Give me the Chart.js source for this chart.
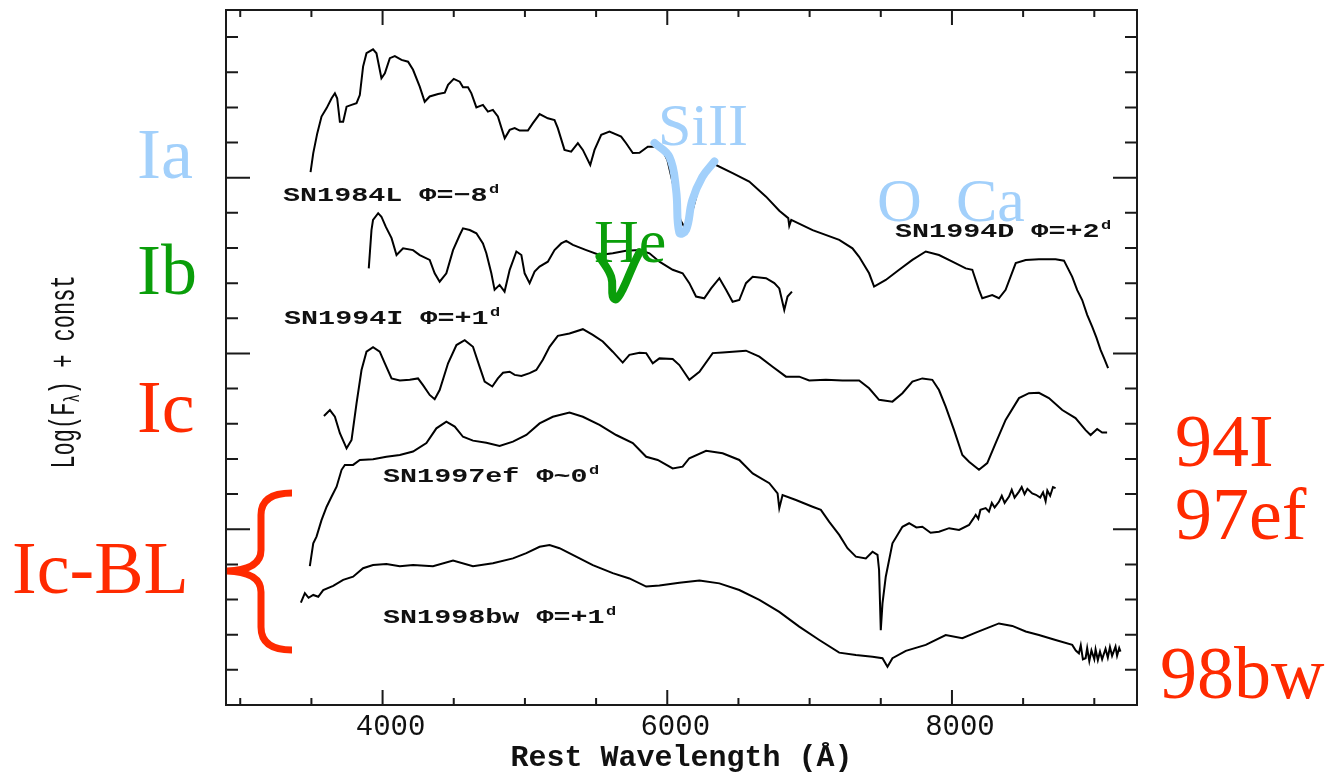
<!DOCTYPE html>
<html>
<head>
<meta charset="utf-8">
<script src="https://cdn.jsdelivr.net/npm/chart.js@4.4.1/dist/chart.umd.min.js"></script>
<style>
  html, body { margin: 0; padding: 0; background: #fff; }
</style>
</head>
<body>
<canvas id="myChart" width="1326" height="773"></canvas>
<script>
// wavelength (Angstrom), log flux + const (one unit = one minor tick)
const sn1994d = [
  [3494,15.16],[3513,15.70],[3541,16.26],[3571,16.74],[3607,16.98],[3642,17.26],[3665,17.40],[3681,17.26],[3700,16.59],[3723,16.59],
  [3747,17.02],[3782,17.07],[3817,17.12],[3840,17.35],[3863,18.16],[3887,18.54],[3933,18.65],[3957,18.54],[3992,17.83],[4016,17.97],
  [4051,18.40],[4086,18.46],[4133,18.35],[4179,18.30],[4214,18.07],[4261,17.59],[4296,17.16],[4331,17.31],[4390,17.38],[4437,17.42],
  [4460,17.64],[4500,17.81],[4542,17.73],[4565,17.57],[4600,17.57],[4624,17.40],[4659,17.00],[4705,17.07],[4740,16.88],[4775,16.93],
  [4810,16.74],[4858,16.12],[4893,16.36],[4928,16.41],[4963,16.34],[5021,16.34],[5056,16.55],[5103,16.81],[5161,16.69],[5208,16.64],
  [5231,16.41],[5278,15.79],[5325,15.74],[5372,15.98],[5407,15.79],[5459,15.36],[5489,15.79],[5536,16.22],[5594,16.31],[5676,16.17],
  [5711,15.98],[5758,15.70],[5805,15.71],[5863,15.88],[5922,15.88],[5959,15.85],[6001,15.50],[6050,14.65],[6092,13.80],[6132,13.51],
  [6169,13.94],[6226,14.79],[6296,15.36],[6343,15.36],[6459,15.13],[6576,14.89],[6694,14.46],[6787,14.06],[6850,13.85],[6857,13.63],
  [6871,13.80],[7021,13.51],[7208,13.23],[7301,12.99],[7348,12.75],[7418,12.28],[7453,11.90],[7535,12.09],[7629,12.38],[7722,12.66],
  [7816,12.90],[7909,12.80],[8003,12.61],[8097,12.42],[8143,12.38],[8190,11.81],[8213,11.57],[8283,11.66],[8330,11.57],[8377,11.81],
  [8448,12.57],[8518,12.66],[8611,12.68],[8728,12.68],[8787,12.64],[8845,12.18],[8880,11.80],[8915,11.52],[8950,11.10],[8985,10.76],
  [9015,10.45],[9044,10.10],[9070,9.85],[9097,9.58]
];

const sn1984l = [
  [3903,12.42],[3922,13.51],[3933,13.80],[3969,13.99],[3992,13.89],[4023,13.60],[4063,13.28],[4098,12.80],[4144,12.99],[4214,12.94],
  [4261,12.80],[4331,12.66],[4366,12.28],[4401,12.04],[4448,12.28],[4495,12.94],[4542,13.37],[4565,13.56],[4612,13.51],[4659,13.42],
  [4705,13.13],[4729,12.85],[4764,12.28],[4787,11.81],[4822,11.95],[4857,11.76],[4893,12.38],[4940,12.90],[4975,12.80],[4998,12.28],
  [5033,12.00],[5068,12.33],[5103,12.47],[5161,12.61],[5208,12.94],[5255,13.13],[5290,13.20],[5337,13.09],[5431,12.94],[5524,12.80],
  [5617,12.85],[5710,12.92],[5805,12.94],[5875,12.85],[5945,12.61],[6038,12.38],[6108,12.28],[6155,12.00],[6202,11.62],[6260,11.57],
  [6308,11.85],[6366,12.14],[6413,11.81],[6459,11.47],[6506,11.52],[6553,12.00],[6600,12.18],[6694,12.14],[6752,12.00],[6787,11.85],
  [6822,11.24],[6845,11.62],[6876,11.76]
];

const sn1994i = [
  [3588,8.22],[3630,8.39],[3665,8.20],[3700,7.73],[3747,7.30],[3782,7.54],[3817,8.58],[3852,9.53],[3887,10.05],[3933,10.18],
  [3980,10.05],[4016,9.72],[4063,9.29],[4121,9.23],[4191,9.25],[4249,9.29],[4284,9.10],[4331,8.82],[4366,8.70],[4401,8.96],
  [4460,9.72],[4519,10.24],[4577,10.38],[4635,10.19],[4682,9.62],[4717,9.20],[4771,9.06],[4810,9.29],[4846,9.45],[4893,9.48],
  [4928,9.39],[4975,9.36],[5033,9.44],[5080,9.53],[5126,9.82],[5173,10.19],[5231,10.50],[5313,10.57],[5407,10.69],[5477,10.53],
  [5547,10.34],[5617,10.05],[5687,9.74],[5734,9.96],[5805,10.02],[5852,10.01],[5898,9.72],[5945,9.86],[6038,9.84],[6085,9.67],
  [6155,9.25],[6226,9.48],[6319,10.01],[6389,10.03],[6553,10.08],[6647,9.91],[6740,9.62],[6834,9.34],[6927,9.34],[6997,9.23],
  [7114,9.25],[7231,9.23],[7348,9.23],[7418,9.01],[7488,8.68],[7582,8.63],[7652,8.87],[7722,9.20],[7792,9.29],[7862,9.25],
  [7909,8.96],[7956,8.49],[8015,7.82],[8073,7.11],[8120,6.92],[8190,6.69],[8248,6.88],[8307,7.45],[8377,8.11],[8471,8.73],
  [8541,8.87],[8611,8.88],[8681,8.73],[8775,8.39],[8868,8.16],[8939,7.82],[8974,7.68],[9020,7.85],[9055,7.75],[9090,7.75]
];

const sn1997ef = [
  [3489,3.95],[3513,4.60],[3536,4.79],[3571,5.26],[3607,5.64],[3642,5.93],[3677,6.21],[3712,6.69],[3735,6.83],[3793,6.83],
  [3840,6.97],[3933,6.99],[4027,7.06],[4121,7.11],[4214,7.21],[4308,7.45],[4378,7.87],[4448,8.06],[4507,7.92],[4565,7.63],
  [4635,7.52],[4729,7.46],[4822,7.37],[4916,7.49],[5010,7.68],[5103,8.01],[5196,8.20],[5313,8.32],[5407,8.20],[5524,7.97],
  [5641,7.68],[5758,7.45],[5852,7.06],[5933,6.97],[6038,6.73],[6108,6.78],[6155,7.02],[6273,7.23],[6389,7.16],[6506,6.97],
  [6600,6.59],[6717,6.31],[6775,6.02],[6787,5.60],[6810,5.97],[6904,5.83],[7021,5.64],[7079,5.55],[7138,5.21],[7208,4.84],
  [7266,4.46],[7325,4.22],[7395,4.17],[7442,4.36],[7477,4.27],[7488,3.84],[7500,2.13],[7512,2.89],[7535,3.65],[7582,4.60],
  [7652,5.07],[7699,5.17],[7750,5.05],[7792,5.07],[7850,4.90],[7909,4.93],[7980,5.03],[8050,4.98],[8120,5.12],[8150,5.30],
  [8167,5.41],[8185,5.30],[8200,5.55],[8237,5.60],[8260,5.50],[8280,5.75],[8300,5.62],[8330,5.78],[8350,5.95],[8370,5.75],
  [8401,5.93],[8420,6.12],[8440,5.90],[8471,6.07],[8490,6.20],[8510,6.00],[8530,6.15],[8564,6.02],[8590,5.98],[8620,5.90],
  [8640,6.05],[8658,5.80],[8670,6.10],[8690,5.95],[8710,6.20],[8728,6.17]
];

const sn1998bw = [
  [3426,2.91],[3454,3.18],[3480,3.05],[3513,3.13],[3548,3.08],[3583,3.27],[3653,3.39],[3723,3.56],[3793,3.65],[3863,3.89],
  [3933,3.98],[4027,4.01],[4121,3.95],[4214,3.98],[4354,3.95],[4495,4.11],[4635,3.95],[4775,4.03],[4916,4.17],[5010,4.32],
  [5103,4.50],[5173,4.55],[5243,4.46],[5360,4.22],[5477,3.98],[5617,3.75],[5734,3.60],[5852,3.37],[5945,3.40],[6085,3.48],
  [6226,3.54],[6366,3.46],[6506,3.27],[6647,2.99],[6787,2.65],[6927,2.23],[7068,1.85],[7208,1.49],[7325,1.42],[7442,1.37],
  [7512,1.33],[7547,1.09],[7582,1.33],[7676,1.54],[7816,1.71],[7956,1.99],[8073,1.90],[8167,2.06],[8260,2.21],[8330,2.32],
  [8424,2.25],[8518,2.09],[8611,1.99],[8728,1.85],[8845,1.71],[8870,1.55],[8892,1.47],[8905,1.70],[8920,1.30],[8939,1.33],
  [8950,1.62],[8965,1.25],[8980,1.55],[9000,1.30],[9009,1.58],[9025,1.28],[9040,1.52],[9055,1.30],[9079,1.60],[9095,1.35],
  [9110,1.65],[9125,1.40],[9149,1.66],[9160,1.40],[9175,1.62],[9184,1.52]
];

// hand-drawn line markers
const siiMark = [[5910,15.99],[6015,15.59],[6062,14.65],[6085,13.43],[6132,13.51],[6176,14.36],[6246,15.02],[6331,15.46]];
const heMark = [[5524,12.75],[5606,12.18],[5617,11.62],[5641,11.54],[5688,11.83],[5758,12.48],[5805,12.88]];

const xTickValues = [3000,3500,4000,4500,5000,5500,6000,6500,7000,7500,8000,8500,9000];
const xLabelValues = [4000,6000,8000];
const yTickValues = [1,2,3,4,5,6,7,8,9,10,11,12,13,14,15,16,17,18,19];
const yMajorValues = [5,10,15];

const spectrumNames = ['SN1984L \u03a6=\u22128', 'SN1994D \u03a6=+2', 'SN1994I \u03a6=+1', 'SN1997ef \u03a6~0', 'SN1998bw \u03a6=+1'];

const lightBlue = '#a2d0fb';
const green = '#0a9e0a';
const red = '#ff2a00';

const toXY = arr => arr.map(p => ({ x: p[0], y: p[1] }));

function spectrum(label, arr) {
    return {
        label: label,
        data: toXY(arr),
        borderColor: '#000',
        borderWidth: 2,
        pointRadius: 0,
        tension: 0,
        fill: false,
        order: 1
    }
}

function marker(label, arr, color) {
    return {
        label: label,
        data: toXY(arr),
        borderColor: color,
        borderWidth: 8,
        pointRadius: 0,
        tension: 0.4,
        borderCapStyle: 'round',
        fill: false,
        order: 0
    }
}

function drawSpecLabel(ctx, text, x, y) {
    ctx.save()
    ctx.translate(x, y)
    ctx.scale(1.42, 1)
    ctx.fillStyle = '#111'
    ctx.textBaseline = 'middle'
    ctx.font = 'bold 20px "Liberation Mono"'
    ctx.fillText(text, 0, 0)
    const w = ctx.measureText(text).width
    ctx.font = 'bold 12px "Liberation Mono"'
    ctx.fillText('d', w + 1, -6)
    ctx.restore()
}

function drawNote(ctx, text, x, y, size, color) {
    ctx.save()
    ctx.fillStyle = color
    ctx.textBaseline = 'alphabetic'
    ctx.font = size + 'px "Liberation Serif"'
    ctx.fillText(text, x, y)
    ctx.restore()
}

const overlay = {
    id: 'overlay',
    afterDraw(chart) {
        const { ctx, chartArea: a } = chart
        const xs = chart.scales.x
        const ys = chart.scales.y
        ctx.save()
        ctx.strokeStyle = '#1a1a1a'
        ctx.lineWidth = 2
        ctx.strokeRect(a.left, a.top, a.right - a.left, a.bottom - a.top)
        ctx.beginPath()
        for (const v of xTickValues) {
            const p = xs.getPixelForValue(v)
            const len = xLabelValues.includes(v) ? 15 : 7
            ctx.moveTo(p, a.bottom); ctx.lineTo(p, a.bottom - len)
            ctx.moveTo(p, a.top); ctx.lineTo(p, a.top + len)
        }
        for (const v of yTickValues) {
            const p = ys.getPixelForValue(v)
            const len = yMajorValues.includes(v) ? 24 : 12
            ctx.moveTo(a.left, p); ctx.lineTo(a.left + len, p)
            ctx.moveTo(a.right, p); ctx.lineTo(a.right - len, p)
        }
        ctx.stroke()
        ctx.restore()

        // spectrum names
        drawSpecLabel(ctx, spectrumNames[0], 283, 196)
        drawSpecLabel(ctx, spectrumNames[1], 895, 232)
        drawSpecLabel(ctx, spectrumNames[2], 284, 319)
        drawSpecLabel(ctx, spectrumNames[3], 383, 477)
        drawSpecLabel(ctx, spectrumNames[4], 383, 618)

        // type notes
        drawNote(ctx, 'Ia', 137, 178, 72, lightBlue)
        drawNote(ctx, 'Ib', 137, 294, 72, green)
        drawNote(ctx, 'Ic', 137, 432, 74, red)
        drawNote(ctx, 'Ic-BL', 12, 593, 74, red)
        drawNote(ctx, '94I', 1175, 466, 74, red)
        drawNote(ctx, '97ef', 1175, 539, 74, red)
        drawNote(ctx, '98bw', 1160, 698, 74, red)
        drawNote(ctx, 'SiII', 658, 145, 60, lightBlue)
        drawNote(ctx, 'He', 594, 262, 62, green)
        drawNote(ctx, 'O', 877, 221, 62, lightBlue)
        drawNote(ctx, 'Ca', 956, 221, 62, lightBlue)

        // brace
        ctx.save()
        ctx.strokeStyle = red
        ctx.lineWidth = 7
        ctx.beginPath()
        ctx.moveTo(292, 493)
        ctx.quadraticCurveTo(261, 493, 261, 515)
        ctx.lineTo(261, 550)
        ctx.quadraticCurveTo(261, 570, 227, 571)
        ctx.quadraticCurveTo(261, 572, 261, 592)
        ctx.lineTo(261, 627)
        ctx.quadraticCurveTo(261, 650, 292, 650)
        ctx.stroke()
        ctx.restore()

        // y title
        ctx.save()
        ctx.translate(65, 372)
        ctx.rotate(-Math.PI / 2)
        ctx.scale(1, 1.6)
        ctx.fillStyle = '#111'
        ctx.textBaseline = 'middle'
        ctx.font = '22px "Liberation Mono"'
        const p1 = 'Log(F', p3 = ') + const'
        const w1 = ctx.measureText(p1).width
        const w3 = ctx.measureText(p3).width
        ctx.font = '14px "Liberation Mono"'
        const w2 = ctx.measureText('\u03bb').width
        let x0 = -(w1 + w2 + w3) / 2
        ctx.font = '22px "Liberation Mono"'
        ctx.fillText(p1, x0, 0)
        ctx.font = '14px "Liberation Mono"'
        ctx.fillText('\u03bb', x0 + w1, 5)
        ctx.font = '22px "Liberation Mono"'
        ctx.fillText(p3, x0 + w1 + w2, 0)
        ctx.restore()
    }
}

const ctx = document.getElementById('myChart')
new Chart(ctx, {
    type: 'line',
    data: {
        datasets: [
            marker('SiII', siiMark, lightBlue),
            marker('He', heMark, green),
            spectrum('SN1994D', sn1994d),
            spectrum('SN1984L', sn1984l),
            spectrum('SN1994I', sn1994i),
            spectrum('SN1997ef', sn1997ef),
            spectrum('SN1998bw', sn1998bw)
        ]
    },
    options: {
        responsive: false,
        animation: false,
        layout: { padding: { left: 226, right: 189, top: 10, bottom: 0 } },
        scales: {
            x: {
                type: 'linear',
                min: 2900,
                max: 9300,
                grid: { display: false },
                border: { display: false },
                afterBuildTicks: s => { s.ticks = xTickValues.map(v => ({ value: v })) },
                afterFit: s => { s.height = 68 },
                ticks: {
                    autoSkip: false,
                    maxRotation: 0,
                    padding: -3,
                    labelOffset: 8,
                    color: '#111',
                    font: { family: 'Liberation Mono', size: 29 },
                    callback: v => xLabelValues.includes(v) ? String(v) : ''
                },
                title: {
                    display: true,
                    text: 'Rest Wavelength (\u00c5)',
                    color: '#111',
                    font: { family: 'Liberation Mono', size: 30, weight: 'bold', lineHeight: 1 },
                    padding: 0
                }
            },
            y: {
                type: 'linear',
                min: 0,
                max: 19.77,
                display: false
            }
        },
        plugins: {
            legend: { display: false },
            tooltip: { enabled: false }
        }
    },
    plugins: [overlay]
})
</script>
</body>
</html>
